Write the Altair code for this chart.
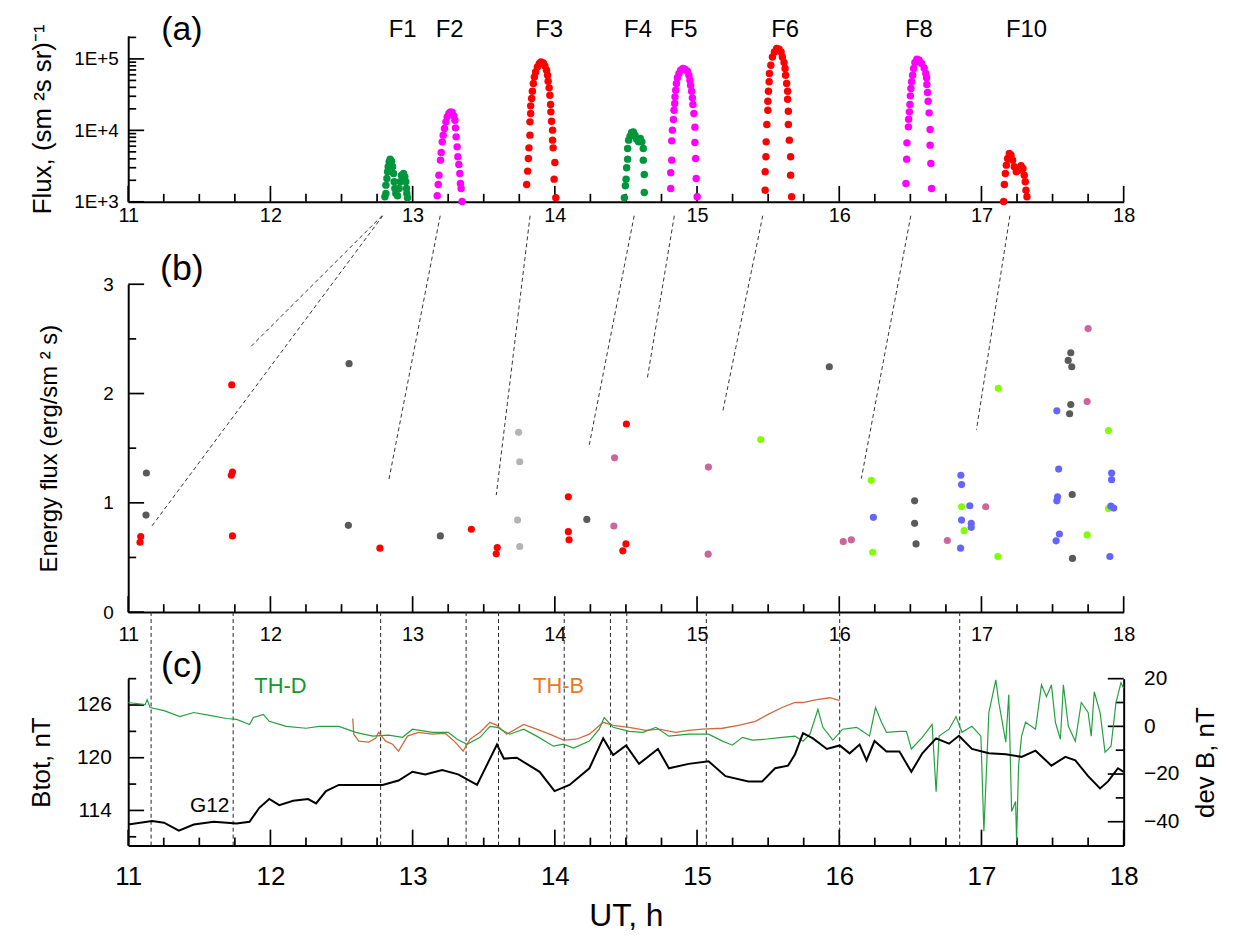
import altair as alt
import pandas as pd

FONT = "Liberation Sans"

# ---------------- tick values ----------------
X_LABELS = [11, 12, 13, 14, 15, 16, 17, 18]
X_MINOR = [11.25, 11.5, 11.75, 12.25, 12.5, 12.75, 13.25, 13.5, 13.75, 14.25, 14.5, 14.75,
           15.25, 15.5, 15.75, 16.25, 16.5, 16.75, 17.25, 17.5, 17.75]
A_Y_LABELS = [1000, 10000, 100000]
A_Y_MINOR = [2000, 3000, 4000, 5000, 6000, 7000, 8000, 9000,
             20000, 30000, 40000, 50000, 60000, 70000, 80000, 90000, 200000]
B_Y_LABELS = [0, 1, 2, 3]
B_Y_MINOR = [0.5, 1.5, 2.5]
CL_LABELS = [114, 120, 126]
CL_MINOR = [111, 117, 123, 129]
CR_LABELS = [20, 0, -20, -40]
CR_MINOR = [10, -10, -30]

# ---------------- panel (a): flux peaks (UT h, flux) ----------------
F1_T = [12.805, 12.812, 12.812, 12.819, 12.824, 12.828, 12.835, 12.842, 12.852, 12.859, 12.866, 12.870,
        12.875, 12.882, 12.894, 12.905, 12.912, 12.922, 12.936, 12.945, 12.952, 12.957, 12.959, 12.964]
F1_V = [1175, 1309, 1710, 2123, 2630, 3090, 3631, 3954, 3707, 3090, 2495, 1905,
        1538, 1309, 1213, 1538, 1905, 2360, 2495, 2239, 1905, 1538, 1309, 1138]
F2_T = [13.173, 13.180, 13.185, 13.196, 13.201, 13.208, 13.215, 13.224, 13.234, 13.243, 13.255, 13.266,
        13.278, 13.290, 13.297, 13.301, 13.306, 13.313, 13.318, 13.325, 13.332, 13.336, 13.341, 13.348]
F2_V = [1213, 1750, 2360, 3828, 4898, 6902, 8570, 10617, 13152, 15453, 17219, 18155,
        17783, 15959, 13868, 10839, 8110, 5875, 4266, 3327, 2495, 1807, 1538, 1010]
F3_T = [13.802, 13.809, 13.814, 13.818, 13.825, 13.825, 13.830, 13.830, 13.837, 13.842, 13.849, 13.856,
        13.865, 13.877, 13.891, 13.902, 13.919, 13.930, 13.942, 13.949, 13.953, 13.960, 13.965, 13.970,
        13.972, 13.977, 13.984, 13.984, 13.988, 14.000, 13.995, 14.007]
F3_V = [1750, 2685, 4036, 5689, 8570, 13152, 17219, 22029, 27861, 35318, 45186, 55976,
        65766, 77268, 86099, 90782, 87902, 79799, 69502, 59156, 48753, 39355, 31046, 23014,
        18155, 13428, 10069, 7295, 5689, 3548, 2075, 1138]
F4_T = [14.489, 14.496, 14.501, 14.505, 14.512, 14.512, 14.519, 14.529, 14.540, 14.552, 14.564, 14.575,
        14.589, 14.601, 14.612, 14.622, 14.622, 14.629, 14.629]
F4_V = [1138, 1675, 2075, 2992, 3954, 5572, 7295, 8299, 9333, 9528, 8570, 7534,
        6902, 7691, 6902, 5572, 3828, 2410, 1352]
F5_T = [14.815, 14.815, 14.822, 14.822, 14.827, 14.834, 14.838, 14.843, 14.845, 14.850, 14.855, 14.862,
        14.873, 14.885, 14.901, 14.915, 14.932, 14.943, 14.950, 14.955, 14.962, 14.967, 14.971, 14.978,
        14.985, 14.985, 14.990, 14.994, 15.001]
F5_V = [1538, 2547, 3828, 7129, 10069, 14191, 19143, 23768, 29444, 36475, 45186, 54325,
        62373, 69502, 73282, 71779, 67298, 59156, 50350, 42855, 35318, 28510, 23014, 17219,
        11092, 6761, 4036, 2123, 1175]
F6_T = [15.479, 15.479, 15.484, 15.486, 15.491, 15.498, 15.498, 15.502, 15.507, 15.509, 15.519, 15.530,
        15.544, 15.560, 15.577, 15.591, 15.600, 15.612, 15.619, 15.623, 15.630, 15.637, 15.637, 15.642,
        15.642, 15.649, 15.658, 15.658, 15.665]
F6_V = [1455, 2630, 4266, 6902, 12078, 19143, 25586, 35318, 47753, 62373, 81658, 106660,
        125314, 139637, 136458, 125314, 106660, 88920, 73282, 59156, 45186, 35318, 27290, 18535,
        12078, 7295, 4266, 2360, 1175]
F8_T = [16.469, 16.474, 16.476, 16.486, 16.488, 16.493, 16.497, 16.500, 16.504, 16.509, 16.516, 16.523,
        16.532, 16.546, 16.562, 16.579, 16.597, 16.609, 16.614, 16.616, 16.621, 16.625, 16.632, 16.639,
        16.639, 16.644, 16.649]
F8_V = [1807, 3954, 6683, 11194, 14322, 18155, 23014, 30409, 38459, 47753, 59156, 73282,
        88920, 99083, 95940, 86099, 74817, 62373, 54325, 43752, 33806, 25586, 17579, 10280,
        6209, 3436, 1538]
F10_T = [17.156, 17.161, 17.168, 17.175, 17.184, 17.196, 17.208, 17.219, 17.231, 17.245, 17.261, 17.278,
         17.292, 17.301, 17.308, 17.313, 17.320]
F10_V = [1010, 1750, 2495, 3258, 4036, 4742, 4498, 3828, 3090, 2630, 2773, 3192,
         2924, 2360, 1905, 1455, 1175]
F_NAMES = ["F1", "F2", "F3", "F4", "F5", "F6", "F8", "F10"]
F_LABEL_T = [12.93, 13.26, 13.96, 14.585, 14.906, 15.62, 16.56, 17.317]

# ---------------- panel (b): energy flux points ----------------
B_RED_T = [11.088, 11.083, 11.728, 11.733, 11.725, 11.733, 12.770, 13.413, 13.595, 13.588,
           14.095, 14.095, 14.100, 14.503, 14.500, 14.478]
B_RED_E = [0.691, 0.639, 2.079, 1.282, 1.252, 0.697, 0.585, 0.758, 0.591, 0.533,
           1.055, 0.736, 0.661, 1.721, 0.624, 0.561]
B_DGREY_T = [11.128, 11.125, 12.553, 12.548, 13.195, 14.225, 15.930, 16.530, 16.530, 16.540,
             17.628, 17.610, 17.635, 17.628, 17.620, 17.638, 17.640]
B_DGREY_E = [1.273, 0.888, 2.273, 0.794, 0.697, 0.848, 2.245, 1.018, 0.812, 0.624,
             2.373, 2.303, 2.245, 1.900, 1.815, 1.076, 0.491]
B_LGREY_T = [13.745, 13.753, 13.738, 13.753]
B_LGREY_E = [1.645, 1.376, 0.842, 0.600]
B_PINK_T = [14.420, 14.415, 15.080, 15.078, 16.028, 16.085, 16.760, 17.030, 17.750, 17.743]
B_PINK_E = [1.412, 0.788, 1.327, 0.530, 0.645, 0.661, 0.655, 0.964, 2.594, 1.927]
B_LIME_T = [15.448, 16.225, 16.235, 16.860, 16.878, 17.118, 17.115, 17.893, 17.893, 17.743]
B_LIME_E = [1.579, 1.206, 0.548, 0.964, 0.745, 2.048, 0.509, 1.661, 0.948, 0.706]
B_BLUE_T = [16.240, 16.855, 16.860, 16.918, 16.860, 16.928, 16.928, 16.853, 17.530, 17.543,
            17.915, 17.915, 17.535, 17.530, 17.910, 17.930, 17.548, 17.525, 17.903]
B_BLUE_E = [0.867, 1.252, 1.167, 0.973, 0.842, 0.812, 0.776, 0.585, 1.842, 1.309,
            1.273, 1.212, 1.055, 1.018, 0.970, 0.952, 0.715, 0.652, 0.509]

# connecting dashed lines: from peak time (top) to energy-flux point
LINK_T0 = [12.785, 12.790, 13.194, 13.826, 14.558, 14.840, 15.462, 16.503, 17.200]
LINK_T1 = [11.858, 11.158, 12.833, 13.588, 14.238, 14.648, 15.180, 16.155, 16.965]
LINK_E1 = [2.424, 0.773, 1.212, 1.070, 1.503, 2.121, 1.830, 1.221, 1.670]
LINK_E0 = 3.627

# ---------------- panel (c): magnetic field ----------------
DASH_T = [11.161, 11.738, 12.775, 13.376, 13.604, 14.066, 14.391, 14.506, 15.065, 16.003, 16.847]

G12_T = [11.0, 11.168, 11.252, 11.356, 11.461, 11.601, 11.762, 11.853, 11.922, 11.992, 12.062, 12.160,
         12.265, 12.321, 12.391, 12.481, 12.579, 12.719, 12.789, 12.901, 12.999, 13.089, 13.208, 13.320,
         13.453, 13.593, 13.642, 13.732, 13.893, 13.998, 14.103, 14.243, 14.340, 14.410, 14.501, 14.592,
         14.725, 14.802, 14.941, 15.081, 15.200, 15.361, 15.458, 15.549, 15.640, 15.689, 15.745, 15.815,
         15.913, 16.003, 16.073, 16.143, 16.192, 16.248, 16.332, 16.423, 16.507, 16.584, 16.681, 16.772,
         16.842, 16.933, 17.052, 17.171, 17.282, 17.380, 17.492, 17.590, 17.660, 17.750, 17.834, 17.890,
         17.960, 18.0]
G12_B = [112.4, 112.8, 112.6, 111.7, 112.4, 112.7, 112.5, 112.7, 114.3, 115.3, 114.6, 115.1,
         115.3, 114.8, 116.2, 116.9, 116.9, 116.9, 116.9, 117.4, 118.4, 118.1, 118.6, 118.1,
         116.9, 121.5, 119.9, 120.0, 118.4, 116.2, 116.9, 118.8, 122.2, 120.3, 121.4, 119.3,
         121.0, 118.8, 119.3, 119.6, 117.9, 117.3, 117.3, 118.8, 119.1, 120.4, 122.8, 122.2,
         121.0, 121.4, 120.5, 121.5, 119.7, 121.9, 120.7, 120.7, 118.4, 120.5, 122.2, 121.6,
         122.5, 121.0, 120.5, 120.4, 120.1, 120.8, 119.1, 120.1, 119.7, 117.9, 116.5, 117.3,
         118.8, 118.4]

THD_T = [11.0, 11.119, 11.133, 11.154, 11.252, 11.363, 11.461, 11.573, 11.692, 11.762, 11.853, 11.880,
         11.950, 11.992, 12.111, 12.251, 12.342, 12.481, 12.600, 12.719, 12.831, 12.929, 12.999, 13.138,
         13.250, 13.313, 13.383, 13.474, 13.544, 13.593, 13.683, 13.781, 13.872, 13.991, 14.061, 14.131,
         14.243, 14.312, 14.347, 14.410, 14.522, 14.620, 14.711, 14.802, 14.941, 15.081, 15.179, 15.249,
         15.319, 15.389, 15.479, 15.598, 15.689, 15.745, 15.794, 15.850, 15.885, 15.955, 16.024, 16.122,
         16.164, 16.213, 16.255, 16.297, 16.332, 16.423, 16.472, 16.507, 16.584, 16.653, 16.681, 16.702,
         16.772, 16.821, 16.863, 16.933, 16.996, 17.017, 17.052, 17.101, 17.122, 17.171, 17.192, 17.212,
         17.240, 17.247, 17.261, 17.282, 17.310, 17.380, 17.422, 17.457, 17.492, 17.520, 17.555, 17.576,
         17.611, 17.660, 17.702, 17.750, 17.772, 17.793, 17.834, 17.869, 17.911, 17.946, 17.981, 18.0]
THD_V = [10.0, 9.1, 11.2, 7.9, 6.6, 4.1, 5.8, 4.6, 3.3, 2.9, 0.8, 3.7,
         5.0, 2.1, 0.0, -0.8, 0.0, 0.0, -2.5, -4.1, -3.7, -4.6, -1.2, -2.5,
         -2.5, -5.4, -7.5, -4.6, 0.0, -0.4, -3.3, -1.2, -4.1, -8.3, -7.5, -9.1,
         -6.2, -1.2, 3.7, -0.4, -2.1, -2.5, -0.4, -4.1, -3.3, -3.3, -6.2, -7.9,
         -4.6, -5.8, -5.4, -4.6, -4.1, -6.2, -3.3, 7.1, -0.4, -5.8, -1.2, -0.4,
         -2.1, -4.1, 7.9, 1.7, -2.5, -2.1, -2.1, -9.5, -4.6, 0.8, -27.4, -4.1,
         -1.2, 4.1, -2.5, 0.0, -4.1, -44.0, 5.8, 19.5, 10.0, -6.6, 13.3, -35.7,
         -31.5, -48.0, -16.6, -4.1, 1.7, -1.2, 17.4, 12.4, 17.4, 1.7, -5.4, 17.4,
         0.0, -6.2, 10.0, 5.8, -4.1, 14.5, 5.8, -10.8, -8.3, 10.0, 18.3, 16.0]

THB_T = [12.579, 12.586, 12.621, 12.691, 12.740, 12.761, 12.810, 12.859, 12.901, 12.964, 13.041, 13.138,
         13.229, 13.299, 13.355, 13.404, 13.474, 13.544, 13.593, 13.662, 13.781, 13.872, 13.963, 14.061,
         14.152, 14.243, 14.340, 14.410, 14.522, 14.641, 14.732, 14.850, 14.941, 15.039, 15.179, 15.291,
         15.410, 15.500, 15.598, 15.689, 15.745, 15.843, 15.934, 16.003]
THB_V = [3.3, -3.3, -6.2, -6.6, -5.0, -2.5, -6.2, -7.5, -10.4, -4.1, -2.5, -3.3,
         -2.9, -6.6, -10.4, -5.4, -2.5, 1.7, 0.4, -3.3, 0.8, -1.2, -3.3, -5.8,
         -5.4, -3.3, 1.7, 0.4, -0.4, -1.7, -1.2, -2.5, -1.7, -1.2, -0.8, 0.4,
         2.1, 5.0, 7.9, 10.0, 10.0, 11.2, 12.0, 10.8]

for a, b in [(F1_T, F1_V), (F2_T, F2_V), (F3_T, F3_V), (F4_T, F4_V), (F5_T, F5_V), (F6_T, F6_V),
             (F8_T, F8_V), (F10_T, F10_V), (B_RED_T, B_RED_E), (B_DGREY_T, B_DGREY_E),
             (B_LGREY_T, B_LGREY_E), (B_PINK_T, B_PINK_E), (B_LIME_T, B_LIME_E), (B_BLUE_T, B_BLUE_E),
             (G12_T, G12_B), (THD_T, THD_V), (THB_T, THB_V)]:
    assert len(a) == len(b), (len(a), len(b))

# ---------------- geometry / styles ----------------
W, H = 1002, 815
A_BOT, A_TOP = 167, 0
B_BOT, B_TOP = 580, 250
C_BOT, C_TOP = 815, 647
MAJ, MIN = 16, 8

GREEN_F = "#00963c"
MAGENTA = "#ff00ff"
RED = "#ff0000"
DGREY = "#5a5a5a"
LGREY = "#b4b4b4"
PINK = "#cc6699"
LIME = "#80ff00"
BLUE = "#6464ff"
THD_COL = "#25a03f"
THB_COL = "#d2693a"

XS = alt.Scale(domain=[11, 18], nice=False, zero=False)
AYS = alt.Scale(type="log", domain=[1000, 210000], range=[A_BOT, A_TOP], nice=False)
BYS = alt.Scale(domain=[0, 3], range=[B_BOT, B_TOP], nice=False, zero=False)
CLS = alt.Scale(domain=[110, 129], range=[C_BOT, C_TOP], nice=False, zero=False)
CRS = alt.Scale(domain=[-50, 20], range=[C_BOT, C_TOP], nice=False, zero=False)


def x_axis(offset, label_size, pad, title=None, title_size=None):
    kw = dict(orient="bottom", offset=offset, values=X_LABELS, format="d", ticks=False,
              domainWidth=2, domainColor="black", labelFontSize=label_size, labelPadding=pad,
              labelFlush=False, labelOverlap=False, grid=False)
    if title:
        kw.update(title=title, titleFontSize=title_size, titleFontWeight="normal", titlePadding=11)
    else:
        kw.update(title=None)
    return alt.Axis(**kw)


def xticks(vals, base, length):
    return alt.Chart(pd.DataFrame({"v": vals})).mark_rule(color="black", strokeWidth=1.7).encode(
        x=alt.X("v:Q", scale=XS, axis=None), y=alt.value(base), y2=alt.value(base - length))


def yticks(vals, yscale, x0, x1):
    return alt.Chart(pd.DataFrame({"v": vals})).mark_rule(color="black", strokeWidth=1.7).encode(
        y=alt.Y("v:Q", scale=yscale, axis=None), x=alt.value(x0), x2=alt.value(x1))


def text_layer(df, field, yscale, size, color="black"):
    return alt.Chart(df).mark_text(fontSize=size, baseline="middle", align="center", color=color).encode(
        x=alt.X("t:Q", scale=XS, axis=None), y=alt.Y(field + ":Q", scale=yscale, axis=None), text="s:N")


layers = []

# ---------------- panel (a) ----------------
rows = []
for ts, vs, col in [(F1_T, F1_V, GREEN_F), (F2_T, F2_V, MAGENTA), (F3_T, F3_V, RED), (F4_T, F4_V, GREEN_F),
                    (F5_T, F5_V, MAGENTA), (F6_T, F6_V, RED), (F8_T, F8_V, MAGENTA), (F10_T, F10_V, RED)]:
    for t, v in zip(ts, vs):
        rows.append({"t": t, "flux": v, "c": col})
df_a = pd.DataFrame(rows)

layers += [xticks(X_LABELS, A_BOT, MAJ), xticks(X_MINOR, A_BOT, MIN),
           yticks(A_Y_LABELS, AYS, 0, MAJ), yticks(A_Y_MINOR, AYS, 0, MIN)]
layers.append(alt.Chart(df_a).mark_circle(size=56, opacity=1).encode(
    x=alt.X("t:Q", scale=XS, axis=x_axis(A_BOT - H, 20, 4)),
    y=alt.Y("flux:Q", scale=AYS, axis=alt.Axis(
        orient="left", values=A_Y_LABELS, labelExpr="'1E+' + round(log(datum.value)/LN10)",
        ticks=False, domainWidth=2, domainColor="black", labelFontSize=19, labelPadding=10,
        title="Flux, (sm ²s sr)⁻¹", titleFontSize=26, titleFontWeight="normal", titlePadding=18,
        grid=False)),
    color=alt.Color("c:N", scale=None),
))
layers.append(text_layer(pd.DataFrame({"t": F_LABEL_T, "s": F_NAMES, "v": [254000] * len(F_NAMES)}),
                         "v", AYS, 24))
layers.append(text_layer(pd.DataFrame({"t": [11.377], "v": [252000], "s": ["(a)"]}), "v", AYS, 34))

# ---------------- panel (b) ----------------
rows = []
for ts, es, col in [(B_RED_T, B_RED_E, RED), (B_DGREY_T, B_DGREY_E, DGREY), (B_LGREY_T, B_LGREY_E, LGREY),
                    (B_PINK_T, B_PINK_E, PINK), (B_LIME_T, B_LIME_E, LIME), (B_BLUE_T, B_BLUE_E, BLUE)]:
    for t, e in zip(ts, es):
        rows.append({"t": t, "e": e, "c": col})
df_b = pd.DataFrame(rows)
df_links = pd.DataFrame({"t0": LINK_T0, "t1": LINK_T1, "e0": [LINK_E0] * len(LINK_T0), "e1": LINK_E1})

layers += [xticks(X_LABELS, B_BOT, MAJ), xticks(X_MINOR, B_BOT, MIN),
           yticks(B_Y_LABELS, BYS, 0, MAJ), yticks(B_Y_MINOR, BYS, 0, MIN)]
layers.append(alt.Chart(df_links).mark_rule(color="#333333", strokeWidth=1, strokeDash=[4, 3]).encode(
    x=alt.X("t0:Q", scale=XS, axis=None), x2="t1:Q",
    y=alt.Y("e0:Q", scale=BYS, axis=None), y2="e1:Q"))
layers.append(alt.Chart(df_b).mark_circle(size=52, opacity=1).encode(
    x=alt.X("t:Q", scale=XS, axis=x_axis(B_BOT - H, 20, 13)),
    y=alt.Y("e:Q", scale=BYS, axis=alt.Axis(
        orient="left", values=B_Y_LABELS, format="d", ticks=False, domainWidth=2, domainColor="black",
        labelFontSize=19, labelPadding=15, title="Energy flux (erg/sm ² s)", titleFontSize=24,
        titleFontWeight="normal", titlePadding=42, grid=False)),
    color=alt.Color("c:N", scale=None),
))
layers.append(text_layer(pd.DataFrame({"t": [11.377], "e": [3.14], "s": ["(b)"]}), "e", BYS, 36))

# ---------------- panel (c): dashed markers and ticks ----------------
layers.append(alt.Chart(pd.DataFrame({"t": DASH_T})).mark_rule(
    color="#222222", strokeWidth=1, strokeDash=[4, 3]).encode(
    x=alt.X("t:Q", scale=XS, axis=None), y=alt.value(B_BOT), y2=alt.value(C_BOT)))
layers += [xticks(X_LABELS, C_BOT, MAJ), xticks(X_MINOR, C_BOT, MIN),
           yticks(CL_LABELS, CLS, 0, MAJ), yticks(CL_MINOR, CLS, 0, MIN),
           yticks(CR_LABELS, CRS, W, W - MAJ), yticks(CR_MINOR, CRS, W, W - MIN)]

# ---------------- panel (c), right scale ----------------
layers.append(alt.Chart(pd.DataFrame({"t": THB_T, "d": THB_V})).mark_line(color=THB_COL, strokeWidth=1.3).encode(
    x=alt.X("t:Q", scale=XS, axis=None), y=alt.Y("d:Q", scale=CRS, axis=None)))
layers.append(alt.Chart(pd.DataFrame({"t": THD_T, "d": THD_V})).mark_line(
    color=THD_COL, strokeWidth=1.2).encode(
    x=alt.X("t:Q", scale=XS, axis=None),
    y=alt.Y("d:Q", scale=CRS, axis=alt.Axis(
        orient="right", values=CR_LABELS, format="d", ticks=False, domainWidth=2, domainColor="black",
        labelFontSize=21, labelPadding=20, labelAlign="left", title="dev B, nT", titleFontSize=26,
        titleFontWeight="normal", titleAngle=270, titleBaseline="top", titlePadding=14, grid=False))))
layers.append(text_layer(pd.DataFrame({"t": [12.07], "d": [16.7], "s": ["TH-D"]}), "d", CRS, 22, "#109a30"))
layers.append(text_layer(pd.DataFrame({"t": [14.026], "d": [16.7], "s": ["TH-B"]}), "d", CRS, 22, "#e8791f"))

# ---------------- panel (c), left scale: G12 ----------------
layers.append(alt.Chart(pd.DataFrame({"t": G12_T, "b": G12_B})).mark_line(color="black", strokeWidth=2).encode(
    x=alt.X("t:Q", scale=XS, axis=x_axis(0, 26, 18, "UT, h", 32)),
    y=alt.Y("b:Q", scale=CLS, axis=alt.Axis(
        orient="left", values=CL_LABELS, format="d", ticks=False, domainWidth=2, domainColor="black",
        labelFontSize=21, labelPadding=17, title="Btot, nT", titleFontSize=26, titleFontWeight="normal",
        titlePadding=22, grid=False))))
layers.append(text_layer(pd.DataFrame({"t": [11.377], "b": [130.4], "s": ["(c)"]}), "b", CLS, 36))
layers.append(text_layer(pd.DataFrame({"t": [11.573], "b": [114.5], "s": ["G12"]}), "b", CLS, 21))

chart = alt.layer(*layers).resolve_scale(
    x="independent", y="independent"
).properties(
    width=W, height=H,
    padding={"left": 121, "top": 25, "right": 103, "bottom": 95},
    autosize=alt.AutoSizeParams(type="none"),
).configure(font=FONT).configure_view(stroke=None).configure_axis(
    labelFont=FONT, titleFont=FONT, labelColor="black", titleColor="black")

chart.save("out.html", embed_options={"renderer": "svg", "actions": False})
